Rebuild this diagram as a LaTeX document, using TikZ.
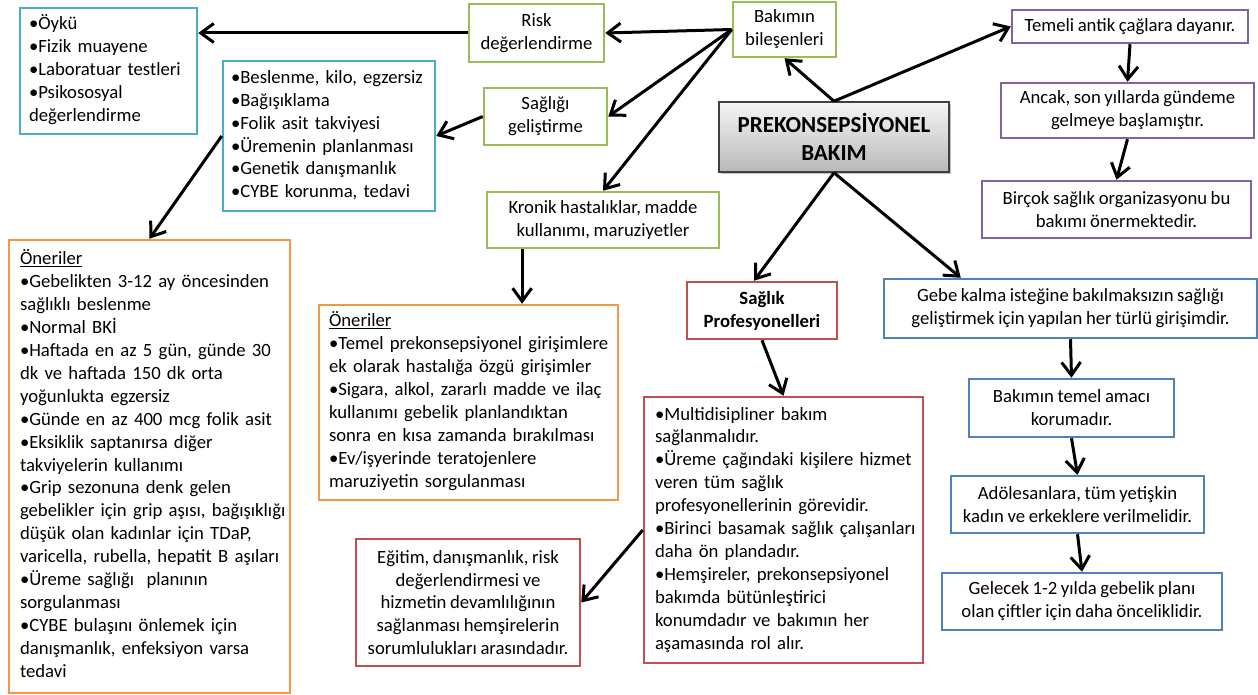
\documentclass[tikz,border=0pt]{standalone}
\usepackage{fontspec}
\setmainfont{Carlito}[WordSpace=0.85]
\usetikzlibrary{arrows.meta,calc,shadows}
\definecolor{cyanb}{HTML}{4BACC6}
\definecolor{greenb}{HTML}{9BBB59}
\definecolor{purpb}{HTML}{8064A2}
\definecolor{orangeb}{HTML}{F79646}
\definecolor{redb}{HTML}{C0504D}
\definecolor{blueb}{HTML}{4F81BD}
\newcommand{\lcol}[1]{\begin{tabular}{@{}l@{}}#1\end{tabular}}
\begin{document}
\begin{tikzpicture}[x=1pt,y=-1pt,
  box/.style={draw, line width=2.5pt, fill=white, inner xsep=0pt, inner ysep=0pt,
    font=\fontsize{18.7}{22.9}\selectfont, text=black},
  cbox/.style={box, align=center},
  lbox/.style={box, align=left},
  arr/.style={line width=3pt, -{Straight Barb[length=13pt,width=19pt]}}]
\useasboundingbox (0,0) rectangle (1258,695);
\fill[white] (0,0) rectangle (1258,695);

% left column
\node[lbox, draw=cyanb, minimum width=177pt, minimum height=126pt, text width=159pt] (oyku) at (108.5,71)
  {\lcol{•Öykü\\•Fizik muayene\\•Laboratuar testleri\\•Psikososyal\\değerlendirme}};
\node[lbox, draw=cyanb, minimum width=212pt, minimum height=150pt, text width=196pt] (besl) at (329,136)
  {\lcol{•Beslenme, kilo, egzersiz\\•Bağışıklama\\•Folik asit takviyesi\\•Üremenin planlanması\\•Genetik danışmanlık\\•CYBE korunma, tedavi}};

% green
\node[cbox, draw=greenb, minimum width=135pt, minimum height=58pt] (risk) at (536.5,33) {Risk\\değerlendirme};
\node[cbox, draw=greenb, minimum width=123pt, minimum height=57pt] (sag) at (545.5,116.5) {Sağlığı\\geliştirme};
\node[cbox, draw=greenb, minimum width=103pt, minimum height=55pt] (bak) at (784.5,29.5) {Bakımın\\bileşenleri};
\node[cbox, draw=greenb, minimum width=232pt, minimum height=56pt] (kron) at (603,220) {Kronik hastalıklar, madde\\kullanımı, maruziyetler};

% central
\node[cbox, draw=black!75, line width=1.5pt, top color=gray!8, bottom color=gray!55, drop shadow,
  minimum width=230pt, minimum height=70pt, font=\fontsize{23}{28.5}\selectfont\bfseries] (prek) at (834,137)
  {PREKONSEPSİYONEL\\BAKIM};

% purple
\node[cbox, draw=purpb, minimum width=236pt, minimum height=33pt] (tem) at (1130,26.5) {Temeli antik çağlara dayanır.};
\node[cbox, draw=purpb, minimum width=253pt, minimum height=55pt] (anc) at (1127.5,110.5) {Ancak, son yıllarda gündeme\\gelmeye başlamıştır.};
\node[cbox, draw=purpb, minimum width=269pt, minimum height=57pt] (bir) at (1116.5,209.5) {Birçok sağlık organizasyonu bu\\bakımı önermektedir.};

% blue
\node[cbox, draw=blueb, minimum width=373pt, minimum height=59pt] (gebe) at (1070.5,308.5) {Gebe kalma isteğine bakılmaksızın sağlığı\\geliştirmek için yapılan her türlü girişimdir.};
\node[cbox, draw=blueb, minimum width=205pt, minimum height=58pt] (amac) at (1071.5,408) {Bakımın temel amacı\\korumadır.};
\node[cbox, draw=blueb, minimum width=253pt, minimum height=57pt] (adol) at (1077.5,504.5) {Adölesanlara, tüm yetişkin\\kadın ve erkeklere verilmelidir.};
\node[cbox, draw=blueb, minimum width=280pt, minimum height=57pt] (gel) at (1082,601.5) {Gelecek 1-2 yılda gebelik planı\\olan çiftler için daha önceliklidir.};

% red
\node[cbox, draw=redb, minimum width=150pt, minimum height=57pt, font=\fontsize{18.7}{22.9}\selectfont\bfseries] (sprof) at (762,310.5) {Sağlık\\Profesyonelleri};
\node[lbox, draw=redb, minimum width=279pt, minimum height=266pt, text width=257pt] (multi) at (783.5,530)
  {\lcol{•Multidisipliner bakım\\sağlanmalıdır.\\•Üreme çağındaki kişilere hizmet\\veren tüm sağlık\\profesyonellerinin görevidir.\\•Birinci basamak sağlık çalışanları\\daha ön plandadır.\\•Hemşireler, prekonsepsiyonel\\bakımda bütünleştirici\\konumdadır ve bakımın her\\aşamasında rol alır.}};
\node[cbox, draw=redb, minimum width=224pt, minimum height=127pt] (egit) at (468,602.5)
  {Eğitim, danışmanlık, risk\\değerlendirmesi ve\\hizmetin devamlılığının\\sağlanması hemşirelerin\\sorumlulukları arasındadır.};

% orange
\node[lbox, draw=orangeb, minimum width=281pt, minimum height=453pt, text width=259pt] (oner1) at (149.5,466.5)
  {\lcol{\underline{Öneriler}\\•Gebelikten 3-12 ay öncesinden\\sağlıklı beslenme\\•Normal BKİ\\•Haftada en az 5 gün, günde 30\\dk ve haftada 150 dk orta\\yoğunlukta egzersiz\\•Günde en az 400 mcg folik asit\\•Eksiklik saptanırsa diğer\\takviyelerin kullanımı\\•Grip sezonuna denk gelen\\gebelikler için grip aşısı, bağışıklığı\\düşük olan kadınlar için TDaP,\\varicella, rubella, hepatit B aşıları\\•Üreme sağlığı\ \ planının\\sorgulanması\\•CYBE bulaşını önlemek için\\danışmanlık, enfeksiyon varsa\\tedavi}};
\node[lbox, draw=orangeb, minimum width=299pt, minimum height=195pt, text width=279pt] (oner2) at (468.5,402.5)
  {\lcol{\underline{Öneriler}\\•Temel prekonsepsiyonel girişimlere\\ek olarak hastalığa\ özgü girişimler\\•Sigara, alkol, zararlı madde ve ilaç\\kullanımı gebelik planlandıktan\\sonra en kısa zamanda bırakılması\\•Ev/işyerinde teratojenlere\\maruziyetin sorgulanması}};

% connectors
\draw[arr] (bak.west) -- (risk.east);
\draw[arr] (risk.west) -- (risk.west -| oyku.east);
\draw[arr] (bak.west) -- (sag.east);
\draw[arr] (bak.west) -- (kron.north);
\draw[arr] (sag.west) -- (besl.east);
\draw[arr] (besl.west) -- (oner1.north);
\draw[arr] ($(kron.south west)!0.155!(kron.south east)$) coordinate (k1) -- (k1 |- oner2.north);
\draw[arr] (prek.north) -- (bak.south);
\draw[arr] (prek.north) -- (tem.west);
\draw[arr] (prek.south) -- ([xshift=-8pt]sprof.north);
\draw[arr] (prek.south) -- ([xshift=78pt]gebe.north west);
\draw[arr] (sprof.south) -- (multi.north);
\draw[arr] (tem.south) -- (anc.north);
\draw[arr] (anc.south) -- (bir.north);
\draw[arr] (gebe.south) -- (amac.north);
\draw[arr] (amac.south) -- (adol.north);
\draw[arr] (adol.south) -- (gel.north);
\draw[arr] (multi.west) -- (egit.east);
\end{tikzpicture}
\end{document}
